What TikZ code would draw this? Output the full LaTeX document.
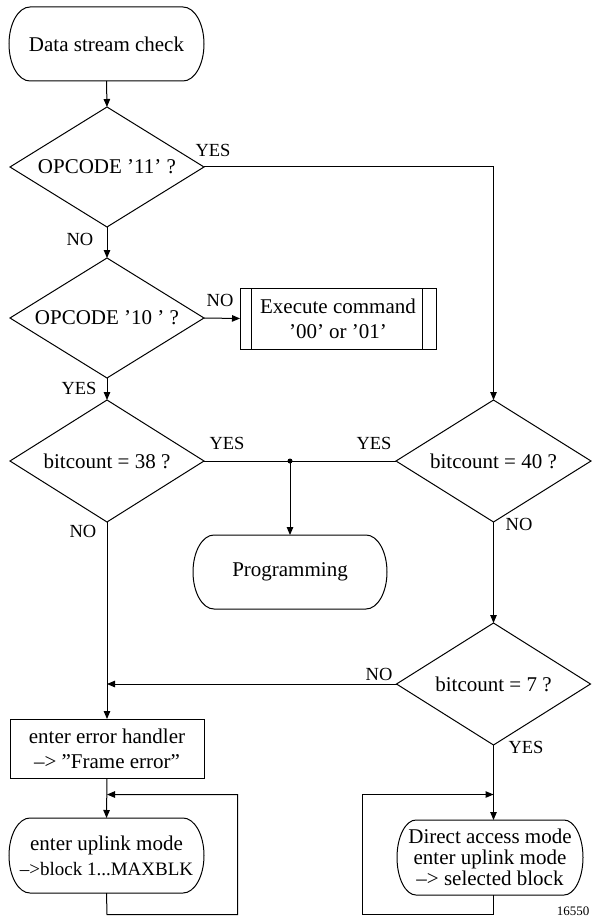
\documentclass[tikz,border=0pt]{standalone}
\usepackage{fontspec}
\setmainfont{Liberation Serif}
\usetikzlibrary{shapes.geometric,arrows.meta}
\newcommand{\termdraw}[3]{\draw ([xshift=#2]#1.north west) -- ([xshift=-#2]#1.north east) arc[start angle=90,end angle=-90,x radius=#2,y radius=#3] -- ([xshift=#2]#1.south west) arc[start angle=270,end angle=90,x radius=#2,y radius=#3] -- cycle;}
\begin{document}
\begin{tikzpicture}[x=1pt,y=-1pt,line width=1pt,
  every node/.style={outer sep=0pt, inner sep=0pt},
  main/.style={font=\fontsize{21}{25}\selectfont, align=center},
  lbl/.style={font=\fontsize{18.5}{20}\selectfont},
  dec/.style={main, shape=diamond, draw, minimum width=194pt, minimum height=120pt},
  term/.style={main, rectangle, minimum width=195pt, minimum height=74pt},
  proc/.style={main, rectangle, draw, minimum width=194pt, minimum height=59pt},
  arr/.style={-{Triangle[length=8pt,width=6.5pt]}}]
\useasboundingbox (0,0) rectangle (601,917);

% nodes
\node[term] (start) at (106.5,44) {Data stream check};
\node[dec] (d1) at (107,167) {\makebox[0pt]{OPCODE '11' ?}};
\node[dec] (d2) at (107,318) {\makebox[0pt]{OPCODE '10 ' ?}};
\node[main, draw, rectangle, minimum width=196pt, minimum height=61pt] (exe) at (338,318.5) {Execute command\\'00' or '01'};
\node[dec, minimum height=122pt] (d3) at (107,461) {\makebox[0pt]{bitcount = 38 ?}};
\node[dec, minimum width=195pt, minimum height=122pt] (d4) at (493.5,461) {\makebox[0pt]{bitcount = 40 ?}};
\node[term, minimum width=194pt] (prog) at (290,572) {Programming};
\node[dec, minimum width=194pt, minimum height=122pt] (d5) at (493.5,684) {\makebox[0pt]{bitcount = 7 ?}};
\node[proc] (err) at (107,748.5) {enter error handler\\--> ''Frame error''};
\node[term, minimum height=75pt] (upl) at (106.5,855.5) {enter uplink mode\\{\fontsize{19}{22}\selectfont -->block 1...MAXBLK}};
\node[term, minimum width=186pt, minimum height=75pt, font=\fontsize{21}{21}\selectfont] (dir) at (490,857.5) {Direct access mode\\enter uplink mode\\--> selected block};
\node[font=\fontsize{13}{13}\selectfont] (num) at (573,911) {16550};

% terminal outlines
\termdraw{start}{21pt}{37pt}
\termdraw{prog}{21pt}{37pt}
\termdraw{upl}{21pt}{37.5pt}
\termdraw{dir}{19pt}{37.5pt}

% execute box inner bars
\draw ([xshift=11pt]exe.north west) -- ([xshift=11pt]exe.south west);
\draw ([xshift=-14pt]exe.north east) -- ([xshift=-14pt]exe.south east);

% labels
\node[lbl] (l1) at (213,150) {YES};
\node[lbl] (l2) at (80,239) {NO};
\node[lbl] (l3) at (220,300) {NO};
\node[lbl] (l4) at (79,388) {YES};
\node[lbl] (l5) at (227,443) {YES};
\node[lbl] (l6) at (83,531) {NO};
\node[lbl] (l7) at (374,443) {YES};
\node[lbl] (l8) at (519,524) {NO};
\node[lbl] (l9) at (379,674) {NO};
\node[lbl] (l10) at (526,747) {YES};

% coordinates
\coordinate (j) at (prog.north |- d3.east);
\coordinate (m) at (d3.south |- d5.west);
\coordinate (lb) at (107,914.5);
\coordinate (lr) at (237.5,914.5);
\coordinate (lt) at (237.5,794.5);
\coordinate (lj) at (107,794.5);
\coordinate (rb) at (493.5,914.5);
\coordinate (rl) at (362.5,914.5);
\coordinate (rt) at (362.5,794.5);
\coordinate (rj) at (493.5,794.5);

% connectors
\draw[arr] (start.south) -- (d1.north);
\draw[arr] (d1.south) -- (d2.north);
\draw[arr] (d1.east) -| (d4.north);
\draw[arr] (d2.east) -- (exe.west);
\draw[arr] (d2.south) -- (d3.north);
\draw (d3.east) -- (d4.west);
\fill (j) circle (2.5pt);
\draw[arr] (j) -- (prog.north);
\draw[arr] (d4.south) -- (d5.north);
\draw[arr] (d5.west) -- (m);
\draw[arr] (d3.south) -- (err.north);
\draw[arr] (err.south) -- (upl.north);
\draw[arr] (upl.south) -- (lb) -- (lr) -- (lt) -- (lj);
\draw[arr] (d5.south) -- (d5.south |- dir.north);
\draw[arr] (d5.south |- dir.south) -- (rb) -- (rl) -- (rt) -- (rj);
\end{tikzpicture}
\end{document}
